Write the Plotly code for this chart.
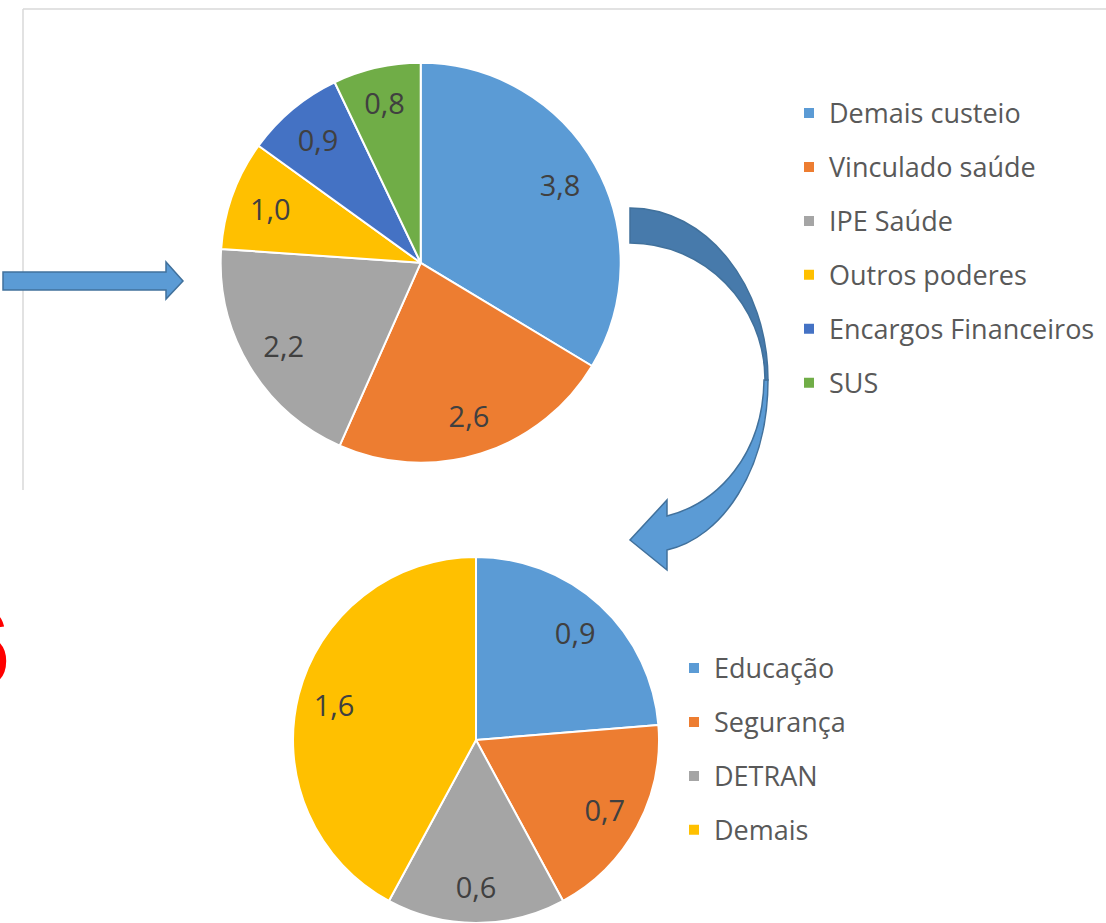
import plotly.graph_objects as go

W, H = 1106, 923

# ---- data ----
top_labels = ["Demais custeio", "Vinculado saúde", "IPE Saúde", "Outros poderes",
              "Encargos Financeiros", "SUS"]
top_values = [3.8, 2.6, 2.2, 1.0, 0.9, 0.8]
top_colors = ["#5B9BD5", "#ED7D31", "#A5A5A5", "#FFC000", "#4472C4", "#70AD47"]

bot_labels = ["Educação", "Segurança", "DETRAN", "Demais"]
bot_values = [0.9, 0.7, 0.6, 1.6]
bot_colors = ["#5B9BD5", "#ED7D31", "#A5A5A5", "#FFC000"]


def px(x):
    return x / W


def py(y):
    return 1 - y / H


def leg(s):
    # pad legend entry vertically to mimic the spacious Excel legend
    return "&nbsp;<br>&nbsp;<br><span style='font-size:27px'>" + s + "</span><br>&nbsp;"


top_dom = dict(x=[px(220.7), px(620.7)], y=[py(462.8), py(62.8)])
bot_dom = dict(x=[px(293), px(659)], y=[py(923), py(557)])

fig = go.Figure()

# main pies
fig.add_trace(go.Pie(
    labels=[leg(s) for s in top_labels], values=top_values, domain=top_dom,
    marker=dict(colors=top_colors, line=dict(color="white", width=2)),
    sort=False, direction="clockwise", rotation=0, textinfo="none",
    hoverinfo="label+value", legend="legend",
))
fig.add_trace(go.Pie(
    labels=[leg(s) for s in bot_labels], values=bot_values, domain=bot_dom,
    marker=dict(colors=bot_colors, line=dict(color="white", width=2)),
    sort=False, direction="clockwise", rotation=0, textinfo="none",
    hoverinfo="label+value", legend="legend2",
))

# transparent ring overlays carrying the value labels (placed near 0.8 r like Excel)
for labs, vals, dom, lg in [(top_labels, top_values, top_dom, "legend"),
                            (bot_labels, bot_values, bot_dom, "legend2")]:
    fig.add_trace(go.Pie(
        labels=["t_" + s for s in labs], values=vals, domain=dom, hole=0.6,
        marker=dict(colors=["rgba(0,0,0,0)"] * len(vals), line=dict(width=0)),
        sort=False, direction="clockwise", rotation=0,
        texttemplate="%{value:.1f}", textposition="inside",
        insidetextorientation="horizontal",
        textfont=dict(family="Open Sans", size=29, color="#404040"),
        hoverinfo="skip", showlegend=False, legend=lg,
    ))

# ---- decorative shapes (arrows and frame) ----
def path(cmds):
    out = []
    for c in cmds:
        if c == "Z":
            out.append("Z")
            continue
        op, pts = c[0], c[1:]
        out.append(op + " " + " ".join(f"{px(x):.5f},{py(y):.5f}" for x, y in pts))
    return " ".join(out)


k = 0.5523
shapes = []
# frame lines
shapes.append(dict(type="line", xref="paper", yref="paper", x0=px(23), x1=px(1106),
                   y0=py(9), y1=py(9), line=dict(color="#D9D9D9", width=1.5)))
shapes.append(dict(type="line", xref="paper", yref="paper", x0=px(23), x1=px(23),
                   y0=py(9), y1=py(490), line=dict(color="#D9D9D9", width=1.5)))
# straight arrow
shapes.append(dict(type="path", xref="paper", yref="paper",
                   path=path([("M", (3, 272)), ("L", (166, 272)), ("L", (166, 262)),
                              ("L", (183, 281)), ("L", (166, 299)), ("L", (166, 290)),
                              ("L", (3, 290)), "Z"]),
                   fillcolor="#5B9BD5", line=dict(color="#41719C", width=1.5)))
# curved arrow - lower light part
shapes.append(dict(type="path", xref="paper", yref="paper",
                   path=path([("M", (768, 380)), ("C", (768, 470), (722, 538), (667, 550)),
                              ("L", (667, 570)), ("L", (630, 540)), ("L", (667, 500)),
                              ("L", (667, 516)), ("C", (718, 503), (763, 455), (764, 380)),
                              "Z"]),
                   fillcolor="#5B9BD5", line=dict(color="#41719C", width=1.5)))
# curved arrow - upper dark part
shapes.append(dict(type="path", xref="paper", yref="paper",
                   path=path([("M", (630, 208)),
                              ("C", (630 + k * 138, 208), (768, 380 - k * 172), (768, 380)),
                              ("L", (765, 380)),
                              ("C", (765, 380 - k * 137), (630 + k * 135, 243), (630, 243)),
                              "Z"]),
                   fillcolor="#477AAB", line=dict(color="#41719C", width=1.5)))

fig.update_layout(
    width=W, height=H, margin=dict(l=0, r=0, t=0, b=0),
    paper_bgcolor="white", plot_bgcolor="white",
    separators=",.",
    shapes=shapes,
    legend=dict(x=px(789), y=py(81), xanchor="left", yanchor="top",
                font=dict(family="Open Sans", size=9.8, color="#595959"),
                bgcolor="rgba(0,0,0,0)", traceorder="normal"),
    legend2=dict(x=px(674), y=py(636), xanchor="left", yanchor="top",
                 font=dict(family="Open Sans", size=9.8, color="#595959"),
                 bgcolor="rgba(0,0,0,0)", traceorder="normal"),
    annotations=[dict(text="<b>6</b>", xref="paper", yref="paper", x=px(12), y=py(647),
                      xanchor="right", yanchor="middle", showarrow=False,
                      font=dict(family="Liberation Sans", size=110, color="#FF0000"))],
)

fig.write_html("out.html")
